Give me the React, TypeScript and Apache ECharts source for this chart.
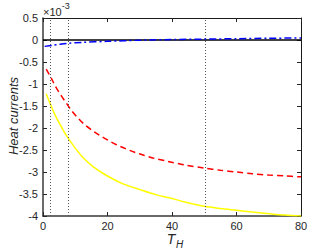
import React, { useEffect, useRef } from "react";
import * as echarts from "echarts";

const xTicks = [0, 20, 40, 60, 80];
const yTicks = [0.5, 0, -0.5, -1, -1.5, -2, -2.5, -3, -3.5, -4];

const zeroT = [0, 80];
const zeroV = [0, 0];

const blueT = [0.5, 3, 5, 8, 12, 20, 30, 40, 50, 60, 70, 80];
const blueV = [-0.145, -0.12, -0.1, -0.075, -0.055, -0.03, -0.005, 0.01, 0.02, 0.03, 0.04, 0.045];

const redT = [1, 2.6, 3.9, 5.5, 7.2, 8.8, 10.8, 12.7, 15.2, 17.6, 20.2, 22.8, 25.6, 28.4, 31.3, 34.1, 38.8, 44, 50, 55, 60, 65, 70, 75, 80];
const redV = [-0.66, -0.87, -1.06, -1.25, -1.43, -1.6, -1.77, -1.91, -2.05, -2.17, -2.28, -2.38, -2.47, -2.55, -2.62, -2.68, -2.76, -2.84, -2.91, -2.96, -3.0, -3.04, -3.07, -3.09, -3.11];

const yellowT = [1, 2.3, 4.1, 6.2, 7.7, 9.8, 12.4, 15.5, 19.7, 24.8, 30, 35.2, 38.8, 44, 50, 55, 60, 65, 70.4, 75, 80];
const yellowV = [-1.22, -1.46, -1.76, -2.04, -2.22, -2.44, -2.67, -2.88, -3.08, -3.27, -3.4, -3.52, -3.58, -3.68, -3.78, -3.83, -3.87, -3.91, -3.95, -3.98, -4.0];

const dottedX = [2.3, 7.7, 50.2];

const zip = (a: number[], b: number[]) => a.map((x, i) => [x, b[i]]);

const FONT = "'Liberation Sans', Arial, sans-serif";
const TXT = "#262626";

export default function App() {
  const ref = useRef<HTMLDivElement>(null);
  useEffect(() => {
    document.body.style.margin = "0";
    const chart = echarts.init(ref.current!, null, { renderer: "svg" });
    const yFmt = (v: number) => {
      const r = Math.round(v * 10) / 10;
      return r === 0 ? "0" : String(r);
    };
    chart.setOption({
      animation: false,
      backgroundColor: "#ffffff",
      grid: { left: 43, right: 31, top: 18, bottom: 33, containLabel: false, outerBoundsMode: "none" },
      xAxis: [
        {
          type: "value",
          min: xTicks[0],
          max: xTicks[xTicks.length - 1],
          interval: 20,
          position: "bottom",
          axisLine: { onZero: false, lineStyle: { color: "#3a3a3a", width: 1.5 } },
          axisTick: { inside: true, length: 4, lineStyle: { color: TXT } },
          axisLabel: { color: TXT, fontSize: 11, fontFamily: FONT, margin: 4 },
          splitLine: { show: false },
        },
        {
          type: "value",
          min: xTicks[0],
          max: xTicks[xTicks.length - 1],
          interval: 20,
          position: "top",
          axisLine: { onZero: false, lineStyle: { color: "#1a1a1a", width: 1 } },
          axisTick: { inside: true, length: 4, lineStyle: { color: TXT } },
          axisLabel: { show: false },
          splitLine: { show: false },
        },
      ],
      yAxis: [
        {
          type: "value",
          min: yTicks[yTicks.length - 1],
          max: yTicks[0],
          interval: 0.5,
          position: "left",
          axisLine: { onZero: false, lineStyle: { color: "#3a3a3a", width: 1.5 } },
          axisTick: { inside: true, length: 4, lineStyle: { color: TXT } },
          axisLabel: { color: TXT, fontSize: 11, fontFamily: FONT, margin: 5, formatter: yFmt },
          splitLine: { show: false },
        },
        {
          type: "value",
          min: yTicks[yTicks.length - 1],
          max: yTicks[0],
          interval: 0.5,
          position: "right",
          axisLine: { onZero: false, lineStyle: { color: "#1a1a1a", width: 1 } },
          axisTick: { inside: true, length: 4, lineStyle: { color: TXT } },
          axisLabel: { show: false },
          splitLine: { show: false },
        },
      ],
      graphic: [
        {
          type: "text",
          left: 43,
          top: 1,
          style: {
            text: "{a|×10}{b|-3}",
            rich: {
              a: { fontSize: 11, fontFamily: FONT, fill: TXT, padding: [5, 0, 0, 0] },
              b: { fontSize: 9, fontFamily: FONT, fill: TXT, verticalAlign: "top" },
            },
          },
        },
        {
          type: "text",
          x: 13,
          y: 116,
          rotation: Math.PI / 2,
          style: {
            text: "Heat currents",
            fontSize: 13,
            fontStyle: "italic",
            fontFamily: FONT,
            fill: TXT,
            align: "center",
            verticalAlign: "middle",
          },
        },
        {
          type: "text",
          x: 171,
          y: 239,
          style: {
            text: "T",
            fontSize: 14,
            fontStyle: "italic",
            fontFamily: FONT,
            fill: TXT,
            align: "center",
            verticalAlign: "middle",
          },
        },
        {
          type: "text",
          x: 176,
          y: 244,
          style: {
            text: "H",
            fontSize: 10,
            fontStyle: "italic",
            fontFamily: FONT,
            fill: TXT,
            align: "left",
            verticalAlign: "middle",
          },
        },
      ],
      series: [
        {
          type: "line",
          data: zip(yellowT, yellowV),
          symbol: "none",
          smooth: 0.3,
          lineStyle: { color: "#ffff00", width: 1.5 },
          z: 3,
        },
        {
          type: "line",
          data: zip(redT, redV),
          symbol: "none",
          smooth: 0.3,
          lineStyle: { color: "#ff0000", width: 1.5, type: [6, 4] },
          z: 4,
        },
        {
          type: "line",
          data: zip(zeroT, zeroV),
          symbol: "none",
          lineStyle: { color: "#000000", width: 1.5 },
          z: 5,
          markLine: {
            silent: true,
            symbol: ["none", "none"],
            label: { show: false },
            lineStyle: { color: "#555555", width: 1, type: [1, 2] },
            data: dottedX.map((x) => ({ xAxis: x })),
          },
        },
        {
          type: "line",
          data: zip(blueT, blueV),
          symbol: "none",
          smooth: 0.3,
          lineStyle: { color: "#0000ff", width: 1.5, type: [7, 3, 2, 3] },
          z: 6,
        },
      ],
    });
    return () => chart.dispose();
  }, []);
  return <div ref={ref} style={{ width: 332, height: 249 }} />;
}
